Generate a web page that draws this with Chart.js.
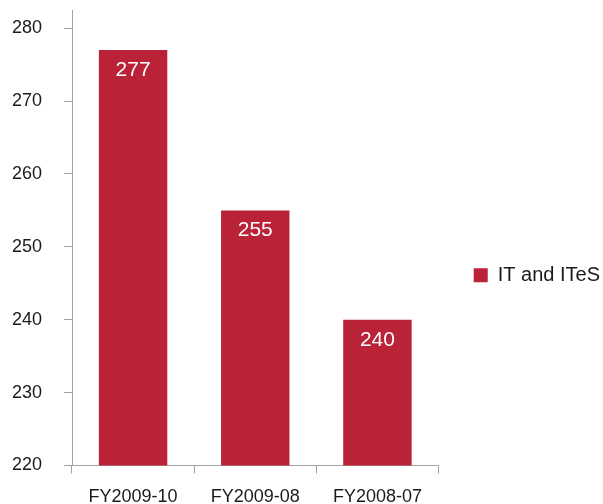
<!DOCTYPE html>
<html>
<head>
<meta charset="utf-8">
<script src="https://cdn.jsdelivr.net/npm/chart.js@4"></script>
<style>
  html, body { margin: 0; padding: 0; background: #fff; }
  #wrap { width: 603px; height: 504px; }
</style>
</head>
<body>
<div id="wrap"><canvas id="barChart"></canvas></div>
<script>
const categories = ["FY2009-10", "FY2009-08", "FY2008-07"];
const itValues = [277, 255, 240];
const yTicks = [220, 230, 240, 250, 260, 270, 280];

const BAR_COLOR = "#b92237";
const AXIS_COLOR = "#a3a3a3";
const FONT = "'Liberation Sans', Arial, sans-serif";

// white value labels inside the top of each bar
const valueLabels = {
  id: "valueLabels",
  afterDatasetsDraw(chart) {
    const { ctx } = chart;
    const meta = chart.getDatasetMeta(0);
    ctx.save();
    ctx.fillStyle = "#fff";
    ctx.font = "21px " + FONT;
    ctx.textAlign = "center";
    ctx.textBaseline = "middle";
    meta.data.forEach((bar, i) => {
      ctx.fillText(String(itValues[i]), bar.x, bar.y + 20);
    });
    ctx.restore();
  },
};

const ctx = document.getElementById("barChart").getContext("2d");

const barChart = new Chart(ctx, {
  type: "bar",
  data: {
    labels: categories,
    datasets: [
      {
        label: "IT and ITeS",
        data: itValues,
        backgroundColor: BAR_COLOR,
        borderWidth: 0,
        categoryPercentage: 1,
        barPercentage: 0.56,
      },
    ],
  },
  options: {
    responsive: true,
    maintainAspectRatio: false,
    animation: false,
    layout: { padding: { left: 12, top: 10, right: -7, bottom: 0 } },
    scales: {
      x: {
        afterFit(scale) {
          scale.height = 38.5;
          scale.paddingLeft = 0;
          scale.paddingRight = 0;
        },
        grid: {
          drawOnChartArea: false,
          drawTicks: true,
          tickLength: 8,
          color: AXIS_COLOR,
        },
        border: { color: AXIS_COLOR },
        ticks: {
          padding: 13,
          color: "#1a1a1a",
          font: { family: FONT, size: 18 },
        },
      },
      y: {
        min: 220,
        max: 282.5,
        afterBuildTicks(scale) {
          scale.ticks = yTicks.map((v) => ({ value: v }));
        },
        afterFit(scale) {
          // don't let the label padding push the plot down
          scale.paddingTop = 0;
          scale.paddingBottom = 0;
          scale.width = 60;
        },
        grid: {
          drawOnChartArea: false,
          drawTicks: true,
          tickLength: 8,
          color: AXIS_COLOR,
        },
        border: { color: AXIS_COLOR },
        ticks: {
          padding: 22,
          color: "#1a1a1a",
          font: { family: FONT, size: 18 },
        },
      },
    },
    plugins: {
      // empty title used as a gap between plot and legend
      title: {
        display: true,
        position: "right",
        fullSize: false,
        text: "",
        font: { size: 1 },
        padding: { top: 24, bottom: 0 },
      },
      legend: {
        position: "right",
        align: "center",
        fullSize: false,
        weight: 3000,
        maxWidth: 200,
        title: {
          display: true,
          text: " ",
          font: { size: 1 },
          padding: { top: 74, bottom: 0 },
        },
        labels: {
          boxWidth: 14,
          boxHeight: 14,
          padding: 10,
          color: "#1a1a1a",
          font: { family: FONT, size: 20 },
        },
      },
      tooltip: { enabled: false },
    },
  },
  plugins: [valueLabels],
});
</script>
</body>
</html>
